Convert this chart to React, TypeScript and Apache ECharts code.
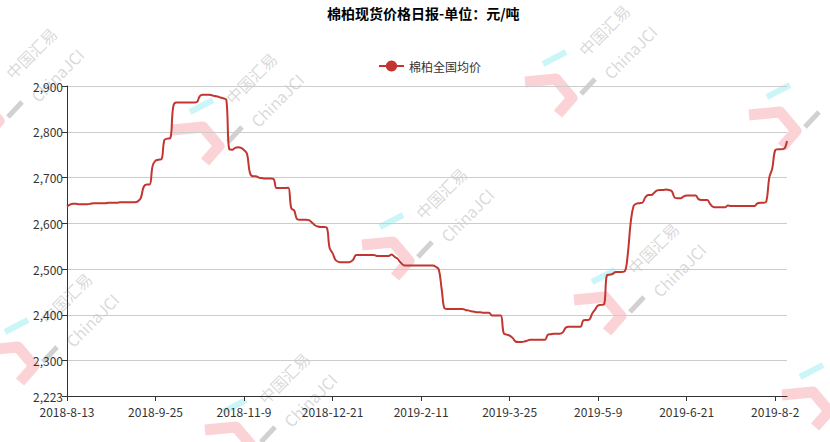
import React, { useEffect, useRef } from "react";
import * as echarts from "echarts";

const TITLE = "棉柏现货价格日报-单位：元/吨";
const SERIES_NAME = "棉柏全国均价";

// Trading calendar (categories)
const START_DATE = "2018-08-13";
const END_DATE = "2019-08-08";
const HOLIDAYS = [
  "2018-09-24", "2018-10-01", "2018-10-02", "2018-10-03", "2018-10-04", "2018-10-05",
  "2018-12-31", "2019-01-01",
  "2019-02-04", "2019-02-05", "2019-02-06", "2019-02-07", "2019-02-08",
  "2019-04-05", "2019-05-01", "2019-05-02", "2019-05-03", "2019-06-07",
];
const MAKEUP_DAYS = ["2018-09-29", "2018-09-30", "2018-12-29", "2019-04-28"];

// Series values
const PRICES = [
  2637, 2641, 2643, 2643, 2642, 2642, 2642, 2642, 2643, 2644,
  2644, 2644, 2644, 2644, 2645, 2645, 2645, 2645, 2646, 2646,
  2646, 2646, 2646, 2646, 2648, 2655, 2680, 2685, 2685, 2725,
  2737, 2739, 2740, 2782, 2785, 2786, 2855, 2864, 2864, 2864,
  2864, 2864, 2864, 2864, 2865, 2878, 2881, 2881, 2881, 2880,
  2878, 2877, 2875, 2873, 2870, 2762, 2761, 2765, 2766, 2765,
  2760, 2752, 2710, 2703, 2703, 2700, 2699, 2698, 2698, 2698,
  2697, 2677, 2677, 2677, 2677, 2678, 2633, 2628, 2609, 2608,
  2608, 2608, 2607, 2602, 2596, 2593, 2592, 2592, 2591, 2546,
  2535, 2520, 2516, 2515, 2515, 2515, 2516, 2521, 2531, 2531,
  2531, 2531, 2531, 2531, 2531, 2529, 2529, 2529, 2529, 2529,
  2532, 2527, 2523, 2515, 2509, 2508, 2508, 2508, 2508, 2508,
  2508, 2508, 2508, 2508, 2508, 2505, 2499, 2455, 2414, 2413,
  2413, 2413, 2413, 2413, 2413, 2411, 2410, 2408, 2407, 2406,
  2406, 2405, 2405, 2405, 2399, 2399, 2399, 2399, 2360, 2357,
  2355, 2350, 2342, 2341, 2341, 2342, 2344, 2346, 2346, 2346,
  2346, 2346, 2346, 2357, 2358, 2359, 2359, 2359, 2362, 2372,
  2374, 2374, 2374, 2374, 2374, 2388, 2389, 2390, 2403, 2412,
  2421, 2422, 2423, 2487, 2488, 2490, 2494, 2494, 2494, 2495,
  2530, 2600, 2638, 2643, 2644, 2645, 2657, 2662, 2662, 2667,
  2672, 2673, 2673, 2674, 2673, 2670, 2656, 2655, 2655, 2659,
  2661, 2661, 2661, 2661, 2653, 2651, 2651, 2651, 2642, 2636,
  2635, 2635, 2635, 2635, 2639, 2638, 2638, 2638, 2638, 2638,
  2638, 2638, 2638, 2638, 2644, 2645, 2645, 2648, 2700, 2720,
  2760, 2762, 2762, 2763, 2780,
];

const Y_MIN = 2223;
const Y_MAX = 2900;

// Watermark texts and anchor points (decoration, not data): [x, y, showText]
const WM_CN = "中国汇易";
const WM_EN = "ChinaJCI";
const WM_ANCHORS: [number, number, number][] = [
  [-25, 115, 1], [195, 140, 1], [385, 255, 1], [548, 92, 1], [597, 310, 1],
  [772, 125, 0], [10, 360, 1], [805, 405, 0], [228, 440, 1],
];

function iso(d: Date): string {
  const m = d.getUTCMonth() + 1;
  const day = d.getUTCDate();
  return `${d.getUTCFullYear()}-${m < 10 ? "0" + m : m}-${day < 10 ? "0" + day : day}`;
}

function buildDates(): string[] {
  const out: string[] = [];
  const d = new Date(START_DATE + "T00:00:00Z");
  const end = new Date(END_DATE + "T00:00:00Z");
  while (d.getTime() <= end.getTime()) {
    const key = iso(d);
    const wd = d.getUTCDay();
    const isWork =
      (wd !== 0 && wd !== 6 && HOLIDAYS.indexOf(key) < 0) || MAKEUP_DAYS.indexOf(key) >= 0;
    if (isWork) {
      out.push(`${d.getUTCFullYear()}-${d.getUTCMonth() + 1}-${d.getUTCDate()}`);
    }
    d.setUTCDate(d.getUTCDate() + 1);
  }
  return out;
}

const FONT = "'Microsoft YaHei', 'Noto Sans CJK SC', sans-serif";

function watermark(p: [number, number, number]) {
  const [x, y, withText] = p;
  const children: any[] = [
    {
      type: "polyline",
      z: -10,
      shape: { points: [[-23, -10], [8, -13], [24, 6], [10, 22]] },
      style: {
        stroke: "rgba(246,150,160,0.42)",
        lineWidth: 11,
        fill: null,
        lineJoin: "round",
        lineCap: "butt",
      },
    },
    {
      type: "line",
      z: -10,
      shape: { x1: -5, y1: -28, x2: 18, y2: -40 },
      style: { stroke: "rgba(140,235,240,0.45)", lineWidth: 6 },
    },
    {
      type: "line",
      z: -10,
      shape: { x1: 33, y1: 2, x2: 47, y2: -13 },
      style: { stroke: "rgba(140,140,140,0.4)", lineWidth: 5 },
    },
  ];
  if (withText) {
    children.push(
      {
        type: "text",
        z: -10,
        x: 56,
        y: -62,
        rotation: Math.PI / 4,
        style: {
          text: WM_CN,
          fill: "rgba(170,170,170,0.45)",
          font: `16px ${FONT}`,
          align: "center",
          verticalAlign: "middle",
        },
      },
      {
        type: "text",
        z: -10,
        x: 82,
        y: -40,
        rotation: Math.PI / 4,
        style: {
          text: WM_EN,
          fill: "rgba(170,170,170,0.45)",
          font: `16px ${FONT}`,
          align: "center",
          verticalAlign: "middle",
        },
      }
    );
  }
  return { type: "group", x, y, silent: true, z: -10, children };
}

export default function App() {
  const ref = useRef<HTMLDivElement>(null);
  useEffect(() => {
    document.body.style.margin = "0";
    if (!ref.current) return;
    const chart = echarts.init(ref.current, null, { renderer: "svg" });
    const dates = buildDates();
    chart.setOption({
      animation: false,
      backgroundColor: "#fff",
      textStyle: { fontFamily: FONT },
      title: {
        text: TITLE,
        left: 322,
        top: 1,
        textStyle: { fontSize: 14, fontWeight: "bold", color: "#000", fontFamily: FONT },
      },
      legend: {
        data: [SERIES_NAME],
        left: 373,
        top: 55,
        itemWidth: 25,
        itemHeight: 14,
        textStyle: { fontSize: 12, color: "#333", fontFamily: FONT },
      },
      graphic: WM_ANCHORS.map(watermark),
      grid: { left: 67, right: 43, top: 86, bottom: 46, containLabel: false },
      xAxis: {
        type: "category",
        data: dates,
        boundaryGap: false,
        axisLine: { lineStyle: { color: "#333", width: 1 } },
        axisTick: { show: true, interval: 29, lineStyle: { color: "#333" } },
        axisLabel: {
          interval: 29,
          color: "#333",
          fontSize: 12,
          lineHeight: 12,
          fontFamily: FONT,
          margin: 9,
        },
        splitLine: { show: false },
      },
      yAxis: {
        type: "value",
        min: Y_MIN,
        max: Y_MAX,
        axisLine: { show: true, lineStyle: { color: "#333", width: 1 } },
        axisTick: { show: true, lineStyle: { color: "#333" } },
        axisLabel: { color: "#333", fontSize: 12, lineHeight: 12, fontFamily: FONT, margin: 4 },
        splitLine: { show: true, lineStyle: { color: "#ccc" } },
      },
      series: [
        {
          name: SERIES_NAME,
          type: "line",
          data: PRICES,
          symbol: "circle",
          symbolSize: 10,
          showSymbol: false,
          smooth: 0.4,
          z: 5,
          itemStyle: { color: "#c23531" },
          lineStyle: { color: "#c23531", width: 2 },
        },
      ],
    });
    return () => chart.dispose();
  }, []);
  return <div ref={ref} style={{ width: 830, height: 442 }} />;
}
